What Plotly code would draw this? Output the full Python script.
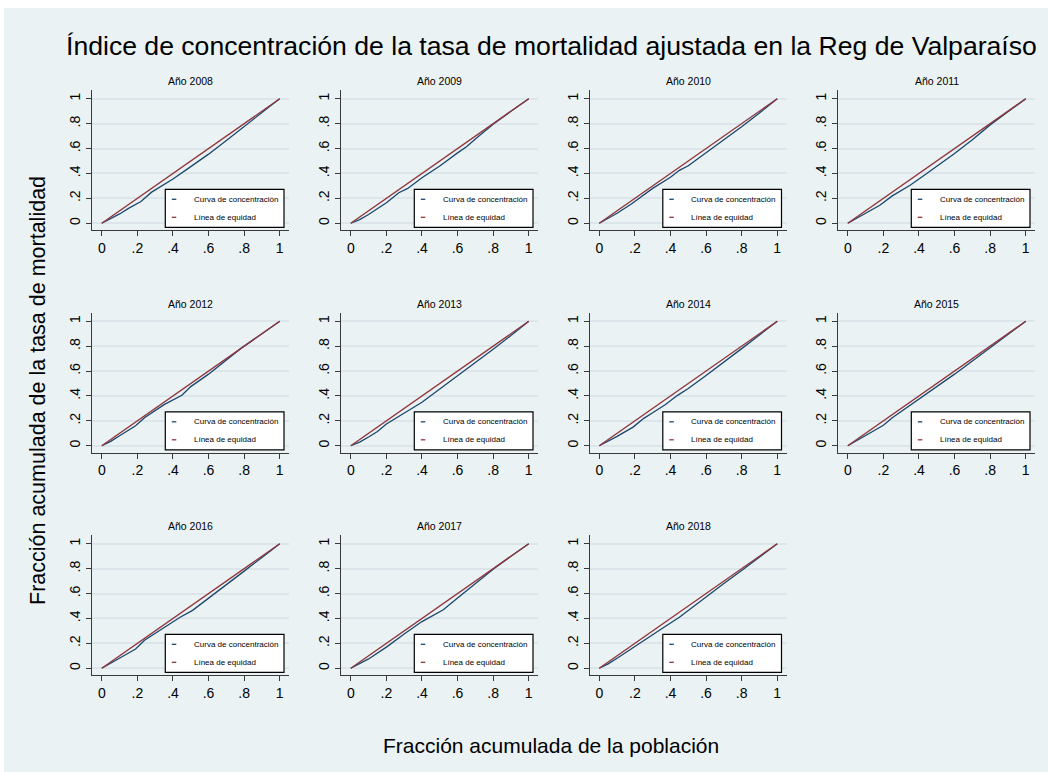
import plotly.graph_objects as go

# Figure size in pixels
W, H = 1048, 772

# Concentration curves by year: cumulative population share (x) and
# cumulative share of the adjusted mortality rate (y)
pob_2008 = [0, .05, .10, .15, .22, .28, .33, .40, .50, .60, .70, .80, .88, .95, 1]
tasa_2008 = [0, .035, .075, .12, .175, .25, .295, .355, .455, .555, .665, .78, .87, .945, 1]

pob_2009 = [0, .05, .10, .20, .27, .32, .40, .50, .60, .65, .72, .80, .90, 1]
tasa_2009 = [0, .03, .07, .165, .245, .28, .365, .46, .565, .615, .70, .795, .90, 1]

pob_2010 = [0, .10, .18, .25, .30, .40, .45, .50, .60, .70, .80, .90, 1]
tasa_2010 = [0, .08, .155, .23, .28, .37, .425, .462, .565, .67, .775, .885, 1]

pob_2011 = [0, .05, .10, .18, .25, .30, .35, .42, .50, .60, .70, .80, .90, 1]
tasa_2011 = [0, .04, .085, .145, .22, .26, .305, .375, .455, .56, .67, .79, .895, 1]

pob_2012 = [0, .05, .10, .19, .24, .30, .35, .45, .50, .60, .70, .78, .90, 1]
tasa_2012 = [0, .035, .08, .16, .225, .285, .33, .405, .475, .575, .685, .78, .90, 1]

pob_2013 = [0, .05, .10, .15, .20, .30, .40, .50, .60, .70, .80, .90, 1]
tasa_2013 = [0, .03, .07, .115, .175, .26, .35, .455, .56, .665, .775, .885, 1]

pob_2014 = [0, .05, .10, .19, .25, .30, .37, .44, .50, .60, .70, .80, .90, 1]
tasa_2014 = [0, .035, .075, .15, .22, .265, .33, .405, .46, .565, .67, .78, .89, 1]

pob_2015 = [0, .05, .10, .20, .25, .30, .38, .45, .50, .60, .70, .80, .90, 1]
tasa_2015 = [0, .04, .085, .165, .225, .275, .35, .42, .475, .575, .68, .785, .895, 1]

pob_2016 = [0, .05, .10, .19, .24, .30, .36, .44, .51, .60, .70, .80, .90, 1]
tasa_2016 = [0, .04, .08, .155, .225, .28, .34, .41, .465, .565, .675, .78, .89, 1]

pob_2017 = [0, .05, .10, .20, .25, .30, .40, .52, .60, .70, .80, .90, 1]
tasa_2017 = [0, .035, .075, .17, .225, .275, .375, .47, .565, .68, .795, .90, 1]

pob_2018 = [0, .05, .10, .19, .23, .30, .37, .45, .50, .60, .70, .80, .90, 1]
tasa_2018 = [0, .035, .08, .165, .21, .27, .335, .41, .465, .57, .68, .785, .89, 1]

# Line of equality
equidad_x = [0, 1]
equidad_y = [0, 1]

years = [2008, 2009, 2010, 2011, 2012, 2013, 2014, 2015, 2016, 2017, 2018]
curves = {
    2008: (pob_2008, tasa_2008), 2009: (pob_2009, tasa_2009),
    2010: (pob_2010, tasa_2010), 2011: (pob_2011, tasa_2011),
    2012: (pob_2012, tasa_2012), 2013: (pob_2013, tasa_2013),
    2014: (pob_2014, tasa_2014), 2015: (pob_2015, tasa_2015),
    2016: (pob_2016, tasa_2016), 2017: (pob_2017, tasa_2017),
    2018: (pob_2018, tasa_2018),
}

tick_vals = [0, .2, .4, .6, .8, 1]
tick_text = ["0", ".2", ".4", ".6", ".8", "1"]
legend_labels = ["Curva de concentración", "Línea de equidad"]

title_text = "Índice de concentración de la tasa de mortalidad ajustada en la Reg de Valparaíso"
xtitle_text = "Fracción acumulada de la población"
ytitle_text = "Fracción acumulada de la tasa de mortalidad"

BLUE = "#1A476F"
RED = "#90353B"
BG = "#EAF2F3"
GRID = "#DCE6EA"
AXIS = "#3a3a3a"
FONT = "Liberation Sans, Arial, sans-serif"

# Panel geometry (pixels)
col_left = [92, 341, 589.5, 838]
row_top = [90, 312.5, 535]
pw, ph = 197, 140

fig = go.Figure()
layout = dict(
    width=W, height=H,
    margin=dict(l=0, r=0, t=0, b=0),
    paper_bgcolor="white", plot_bgcolor="white",
    showlegend=False,
    font=dict(family=FONT, color="black"),
)
shapes = [dict(type="rect", xref="paper", yref="paper", x0=4 / W, x1=1, y0=0, y1=1 - 8 / H,
               fillcolor=BG, line=dict(width=0), layer="below")]
annotations = []

for i, yr in enumerate(years):
    r, c = divmod(i, 4)
    n = i + 1
    xa = "x" if n == 1 else f"x{n}"
    ya = "y" if n == 1 else f"y{n}"
    x0 = col_left[c] / W
    x1 = (col_left[c] + pw) / W
    y1 = 1 - row_top[r] / H
    y0 = 1 - (row_top[r] + ph) / H

    px, py = curves[yr]
    fig.add_trace(go.Scatter(x=px, y=py, mode="lines", line=dict(color=BLUE, width=1.3),
                             xaxis=xa, yaxis=ya, name=legend_labels[0], hoverinfo="skip"))
    fig.add_trace(go.Scatter(x=equidad_x, y=equidad_y, mode="lines", line=dict(color=RED, width=1.4),
                             xaxis=xa, yaxis=ya, name=legend_labels[1], hoverinfo="skip"))

    layout["xaxis" if n == 1 else f"xaxis{n}"] = dict(
        domain=[x0, x1], anchor=ya, range=[-0.055, 1.052],
        tickvals=tick_vals, ticktext=tick_text, ticks="outside", ticklen=5,
        tickcolor=AXIS, tickwidth=1, showline=True, linecolor=AXIS, linewidth=1,
        showgrid=False, zeroline=False, tickfont=dict(size=14, family=FONT),
        fixedrange=True,
    )
    layout["yaxis" if n == 1 else f"yaxis{n}"] = dict(
        domain=[y0, y1], anchor=xa, range=[-0.054, 1.07],
        tickvals=tick_vals, ticktext=tick_text, ticks="outside", ticklen=5,
        tickcolor=AXIS, tickwidth=1, showline=True, linecolor=AXIS, linewidth=1,
        showgrid=True, gridcolor=GRID, gridwidth=1.5, zeroline=False,
        tickangle=-90, tickfont=dict(size=14, family=FONT), fixedrange=True,
    )

    # Panel title
    annotations.append(dict(text=f"Año {yr}", xref="paper", yref="paper",
                            x=(x0 + x1) / 2, y=1 - (row_top[r] - 9) / H,
                            xanchor="center", yanchor="middle", showarrow=False,
                            font=dict(size=10.5, family=FONT)))

    # Legend box inside the panel
    dom_x = f"{xa} domain"
    dom_y = f"{ya} domain"
    bx0, bx1 = 73.3 / pw, 192 / pw
    by0, by1 = 2.7 / ph, 40.7 / ph
    shapes.append(dict(type="rect", xref=dom_x, yref=dom_y, x0=bx0, x1=bx1, y0=by0, y1=by1,
                       fillcolor="white", line=dict(color="black", width=1.2), layer="above"))
    for k, (lab, col) in enumerate(zip(legend_labels, [BLUE, RED])):
        ry = (40.7 - 10 - 18 * k) / ph
        shapes.append(dict(type="line", xref=dom_x, yref=dom_y,
                           x0=(73.3 + 6.5) / pw, x1=(73.3 + 11) / pw, y0=ry, y1=ry,
                           line=dict(color=col, width=1.3), layer="above"))
        annotations.append(dict(text=lab, xref=dom_x, yref=dom_y,
                                x=(73.3 + 26.4) / pw, y=ry, xanchor="left", yanchor="middle",
                                showarrow=False, font=dict(size=8, family=FONT)))

# Overall titles
annotations.append(dict(text=title_text, xref="paper", yref="paper", x=551.5 / W, y=1 - 46 / H,
                        xanchor="center", yanchor="middle", showarrow=False,
                        font=dict(size=26.6, family=FONT)))
annotations.append(dict(text=xtitle_text, xref="paper", yref="paper", x=551 / W, y=1 - 745 / H,
                        xanchor="center", yanchor="middle", showarrow=False,
                        font=dict(size=21, family=FONT)))
annotations.append(dict(text=ytitle_text, xref="paper", yref="paper", x=38 / W, y=1 - 391 / H,
                        xanchor="center", yanchor="middle", showarrow=False, textangle=-90,
                        font=dict(size=21.5, family=FONT)))

layout["shapes"] = shapes
layout["annotations"] = annotations
fig.update_layout(**layout)
fig.write_html("out.html")
